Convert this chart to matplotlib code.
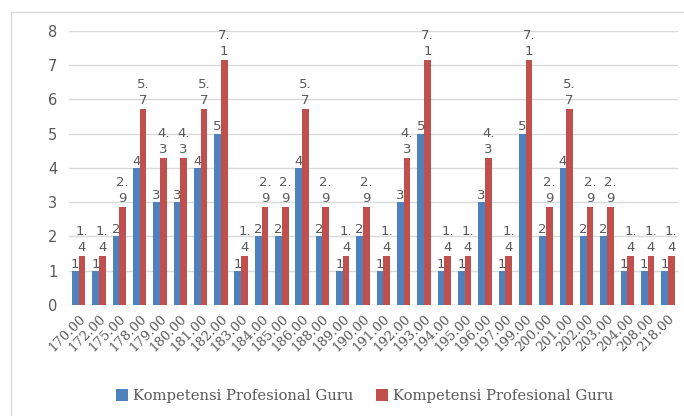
import matplotlib
matplotlib.use("Agg")
import matplotlib.pyplot as plt
import numpy as np
from matplotlib.patches import Rectangle

categories = ["170.00", "172.00", "175.00", "178.00", "179.00", "180.00", "181.00", "182.00",
              "183.00", "184.00", "185.00", "186.00", "188.00", "189.00", "190.00", "191.00",
              "192.00", "193.00", "194.00", "195.00", "196.00", "197.00", "199.00", "200.00",
              "201.00", "202.00", "203.00", "204.00", "208.00", "218.00"]
blue_vals = [1, 1, 2, 4, 3, 3, 4, 5, 1, 2, 2, 4, 2, 1, 2, 1, 3, 5, 1, 1, 3, 1, 5, 2, 4, 2, 2, 1, 1, 1]
red_vals = [1.43, 1.43, 2.86, 5.71, 4.29, 4.29, 5.71, 7.14, 1.43, 2.86, 2.86, 5.71, 2.86, 1.43,
            2.86, 1.43, 4.29, 7.14, 1.43, 1.43, 4.29, 1.43, 7.14, 2.86, 5.71, 2.86, 2.86, 1.43,
            1.43, 1.43]
series_names = ["Kompetensi Profesional Guru", "Kompetensi Profesional Guru"]

BLUE = "#4F81BD"
RED = "#C0504D"
TXT = "#595959"
SERIF = ["DejaVu Serif"]

fig = plt.figure(figsize=(6.84, 4.16), dpi=100)
fig.patches.append(Rectangle((11/684, -0.1), 1.2, (416-12)/416 + 0.1, transform=fig.transFigure,
                             fill=False, edgecolor="#D9D9D9", linewidth=1.0))
ax = fig.add_axes([68.5/684, (416-305)/416, (678-68.5)/684, (305-30.6)/416])

x = np.arange(len(categories))
w = 0.33
ax.bar(x - w/2, blue_vals, w, color=BLUE, label=series_names[0], zorder=2)
ax.bar(x + w/2, red_vals, w, color=RED, label=series_names[1], zorder=2)

for xi, v in zip(x - w/2, blue_vals):
    ax.text(xi, v, f"{v:g}", ha="center", va="bottom", fontsize=9.5, color=TXT, zorder=3,
            fontfamily="DejaVu Sans")
for xi, v in zip(x + w/2, red_vals):
    s = f"{v:.1f}"
    a, b = s.split(".")
    ax.text(xi, v + 0.05, f"{a}.\n{b}", ha="center", va="bottom", fontsize=9.5, color=TXT,
            zorder=3, linespacing=1.35, fontfamily="DejaVu Sans")

ax.set_xlim(-0.5, len(categories) - 0.5)
ax.set_ylim(0, 8)
ax.set_yticks(range(0, 9))
ax.yaxis.grid(True, color="#D9D9D9", linewidth=1.0, zorder=0)
ax.set_axisbelow(True)
for s in ax.spines.values():
    s.set_visible(False)
ax.tick_params(axis="both", length=0, colors=TXT)
ax.tick_params(axis="y", labelsize=10.5, pad=8)
ax.set_xticks(x)
ax.set_xticklabels(categories, rotation=45, ha="right", rotation_mode="anchor",
                   fontsize=9.5, fontfamily=SERIF, color=TXT)
ax.tick_params(axis="x", pad=5)

leg = fig.legend(loc="lower center", bbox_to_anchor=(0.533, 0.0), ncol=2, frameon=False,
                 prop={"family": SERIF, "size": 10.6}, handlelength=0.85, handleheight=0.85,
                 columnspacing=1.5, handletextpad=0.35)
for t in leg.get_texts():
    t.set_color(TXT)

fig.savefig("out.png", dpi=100)
